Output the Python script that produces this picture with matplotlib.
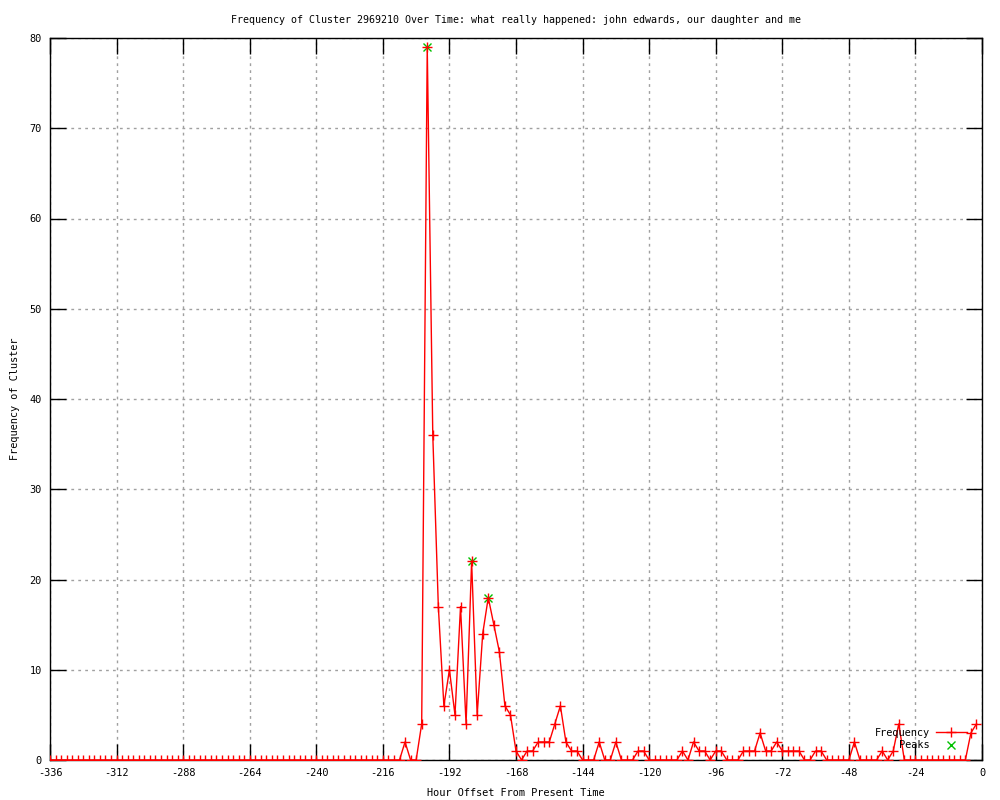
import numpy as np
import matplotlib
matplotlib.use('Agg')
import matplotlib.pyplot as plt
from matplotlib.lines import Line2D

# hours before present, one point every 2 hours
hours = np.arange(-336, 0, 2)

freq = [0] * 64 + [
    2, 0, 0, 4, 79, 36, 17, 6, 10, 5, 17, 4, 22, 5, 14, 18,   # -208 .. -178
    15, 12, 6, 5, 1, 0, 1, 1, 2, 2, 2, 4, 6, 2, 1, 1,          # -176 .. -146
    0, 0, 0, 2, 0, 0, 2, 0, 0, 0, 1, 1, 0, 0, 0, 0,            # -144 .. -114
    0, 0, 1, 0, 2, 1, 1, 0, 1, 1, 0, 0, 0, 1, 1, 1,            # -112 .. -82
    3, 1, 1, 2, 1, 1, 1, 1, 0, 0, 1, 1, 0, 0, 0, 0,            # -80 .. -50
    0, 2, 0, 0, 0, 0, 1, 0, 1, 4,                              # -48 .. -30
    0, 0, 0, 0, 0, 0, 0, 0, 0, 0, 0, 0,                        # -28 .. -6
    3, 4,                                                      # -4, -2
]

peak_hours = [-200, -184, -178]
peak_vals = [79, 22, 18]

xticks = np.arange(-336, 1, 24)
yticks = np.arange(0, 81, 10)

plt.rcParams['font.family'] = 'DejaVu Sans Mono'
plt.rcParams['font.size'] = 7.4
plt.rcParams['axes.unicode_minus'] = False

fig = plt.figure(figsize=(10, 8), dpi=100)
ax = fig.add_axes([0.05, 0.05, 0.932, 0.9025])

ax.plot(peak_hours, peak_vals, linestyle='none', color='#00c000', marker='x',
        markersize=6, markeredgewidth=1, zorder=2)
ax.plot(hours, freq, color='red', linewidth=1, marker='+', markersize=6.5,
        markeredgewidth=1, zorder=3)

ax.set_xlim(-336, 0)
ax.set_ylim(0, 80)
ax.set_xticks(xticks)
ax.set_yticks(yticks)
ax.tick_params(direction='in', length=11.5, width=1, top=True, right=True,
               color='black', pad=6)
ax.grid(True, linestyle=(0, (2, 3)), color='#a0a0a0', linewidth=1)
for s in ax.spines.values():
    s.set_linewidth(1)

ax.set_title('Frequency of Cluster 2969210 Over Time: what really happened: '
             'john edwards, our daughter and me', fontsize=7.2, pad=11)
ax.set_xlabel('Hour Offset From Present Time', labelpad=7)
ax.set_ylabel('Frequency of Cluster', labelpad=7)

handles = [
    Line2D([], [], color='red', linewidth=1, marker='+', markersize=6.5),
    Line2D([], [], color='#00c000', linestyle='none', marker='x', markersize=6),
]
fig.legend(handles, ['Frequency', 'Peaks'], loc='lower right',
           bbox_to_anchor=(0.972, 0.0555), markerfirst=False, frameon=False,
           borderpad=0, labelspacing=0.25, handlelength=3.0,
           handletextpad=0.6, fontsize=7.4)

plt.savefig('out.png', dpi=100)
